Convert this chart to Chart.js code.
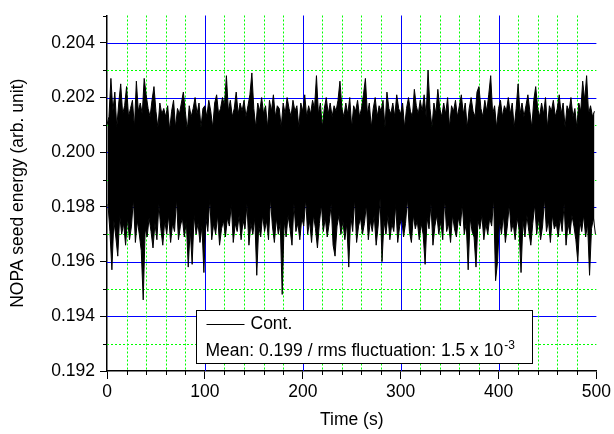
<!DOCTYPE html>
<html>
<head>
<meta charset="utf-8">
<script src="https://cdn.jsdelivr.net/npm/chart.js@4.4.1/dist/chart.umd.min.js"></script>
<style>
  html, body { margin: 0; padding: 0; background: #fff; }
</style>
</head>
<body>
<canvas id="seedChart" width="614" height="434"></canvas>
<script>
// NOPA seed energy trace, read off the plot as the upper / lower envelope
// of the signal in 2 s bins (t = 0, 2, 4 ... 498 s)
var binSeconds = 2;

var upperEnv = [
  0.2010, 0.2013, 0.2027, 0.2015, 0.2022, 0.2009, 0.2018, 0.2025, 0.2014, 0.2017,
  0.2024, 0.2013, 0.2016, 0.2019, 0.2009, 0.2026, 0.2015, 0.2018, 0.2014, 0.2027,
  0.2021, 0.2016, 0.2013, 0.2019, 0.2024, 0.2015, 0.2009, 0.2018, 0.2014, 0.2016,
  0.2013, 0.2017, 0.2008, 0.2015, 0.2019, 0.2009, 0.2016, 0.2014, 0.2018, 0.2022,
  0.2015, 0.2008, 0.2017, 0.2013, 0.2016, 0.2020, 0.2014, 0.2018, 0.2009, 0.2016,
  0.2017, 0.2013, 0.2019, 0.2015, 0.2009, 0.2018, 0.2021, 0.2014, 0.2016, 0.2020,
  0.2017, 0.2028, 0.2015, 0.2019, 0.2013, 0.2016, 0.2022, 0.2014, 0.2018, 0.2015,
  0.2019, 0.2013, 0.2017, 0.2021, 0.2029, 0.2016, 0.2009, 0.2018, 0.2015, 0.2020,
  0.2014, 0.2017, 0.2009, 0.2019, 0.2015, 0.2021, 0.2013, 0.2017, 0.2016, 0.2009,
  0.2018, 0.2014, 0.2020, 0.2016, 0.2013, 0.2019, 0.2015, 0.2017, 0.2009, 0.2018,
  0.2015, 0.2021, 0.2013, 0.2017, 0.2014, 0.2019, 0.2016, 0.2028, 0.2014, 0.2018,
  0.2009, 0.2016, 0.2020, 0.2014, 0.2018, 0.2013, 0.2017, 0.2015, 0.2019, 0.2026,
  0.2016, 0.2013, 0.2018, 0.2014, 0.2020, 0.2009, 0.2017, 0.2015, 0.2019, 0.2013,
  0.2016, 0.2021, 0.2027, 0.2014, 0.2018, 0.2009, 0.2016, 0.2020, 0.2013, 0.2017,
  0.2015, 0.2019, 0.2009, 0.2022, 0.2016, 0.2014, 0.2018, 0.2013, 0.2021, 0.2016,
  0.2014, 0.2018, 0.2009, 0.2016, 0.2020, 0.2015, 0.2013, 0.2023, 0.2017, 0.2014,
  0.2019, 0.2015, 0.2021, 0.2013, 0.2030, 0.2016, 0.2009, 0.2018, 0.2014, 0.2023,
  0.2016, 0.2013, 0.2018, 0.2014, 0.2020, 0.2009, 0.2017, 0.2015, 0.2019, 0.2013,
  0.2017, 0.2021, 0.2014, 0.2018, 0.2009, 0.2016, 0.2020, 0.2015, 0.2013, 0.2022,
  0.2024, 0.2016, 0.2013, 0.2019, 0.2015, 0.2021, 0.2028, 0.2014, 0.2017, 0.2009,
  0.2016, 0.2019, 0.2013, 0.2017, 0.2015, 0.2020, 0.2014, 0.2018, 0.2009, 0.2016,
  0.2025, 0.2014, 0.2018, 0.2013, 0.2017, 0.2021, 0.2015, 0.2009, 0.2019, 0.2024,
  0.2016, 0.2013, 0.2018, 0.2014, 0.2020, 0.2009, 0.2017, 0.2015, 0.2019, 0.2013,
  0.2016, 0.2021, 0.2014, 0.2018, 0.2009, 0.2017, 0.2015, 0.2020, 0.2013, 0.2016,
  0.2009, 0.2018, 0.2015, 0.2026, 0.2019, 0.2028, 0.2014, 0.2017, 0.2013, 0.2015
];

var lowerEnv = [
  0.1981, 0.1971, 0.1957, 0.1975, 0.1969, 0.1962, 0.1977, 0.1970, 0.1974, 0.1966,
  0.1976, 0.1968, 0.1973, 0.1983, 0.1967, 0.1975, 0.1970, 0.1964, 0.1946, 0.1972,
  0.1969, 0.1976, 0.1971, 0.1965, 0.1974, 0.1968, 0.1981, 0.1972, 0.1966, 0.1975,
  0.1970, 0.1977, 0.1967, 0.1974, 0.1971, 0.1983, 0.1968, 0.1973, 0.1976, 0.1969,
  0.1975, 0.1958, 0.1972, 0.1959, 0.1977, 0.1970, 0.1974, 0.1967, 0.1973, 0.1956,
  0.1976, 0.1971, 0.1983, 0.1968, 0.1974, 0.1970, 0.1977, 0.1966, 0.1972, 0.1975,
  0.1969, 0.1976, 0.1973, 0.1981, 0.1967, 0.1974, 0.1971, 0.1977, 0.1968, 0.1975,
  0.1972, 0.1981, 0.1966, 0.1974, 0.1970, 0.1976, 0.1955, 0.1973, 0.1969, 0.1977,
  0.1971, 0.1975, 0.1968, 0.1983, 0.1973, 0.1967, 0.1976, 0.1970, 0.1974, 0.1948,
  0.1975, 0.1969, 0.1977, 0.1972, 0.1966, 0.1981, 0.1971, 0.1974, 0.1968, 0.1976,
  0.1973, 0.1983, 0.1970, 0.1975, 0.1967, 0.1977, 0.1972, 0.1965, 0.1974, 0.1981,
  0.1971, 0.1976, 0.1969, 0.1974, 0.1981, 0.1966, 0.1962, 0.1973, 0.1977, 0.1970,
  0.1975, 0.1968, 0.1974, 0.1958, 0.1977, 0.1971, 0.1983, 0.1967, 0.1973, 0.1976,
  0.1970, 0.1974, 0.1981, 0.1968, 0.1975, 0.1971, 0.1977, 0.1966, 0.1973, 0.1983,
  0.1960, 0.1975, 0.1970, 0.1977, 0.1968, 0.1974, 0.1971, 0.1981, 0.1967, 0.1973,
  0.1976, 0.1969, 0.1974, 0.1983, 0.1971, 0.1967, 0.1977, 0.1972, 0.1975, 0.1968,
  0.1974, 0.1970, 0.1959, 0.1976, 0.1972, 0.1981, 0.1966, 0.1973, 0.1977, 0.1970,
  0.1975, 0.1968, 0.1983, 0.1971, 0.1974, 0.1967, 0.1977, 0.1972, 0.1969, 0.1976,
  0.1973, 0.1981, 0.1970, 0.1974, 0.1957, 0.1976, 0.1971, 0.1969, 0.1958, 0.1975,
  0.1972, 0.1977, 0.1968, 0.1974, 0.1970, 0.1976, 0.1973, 0.1983, 0.1953, 0.1960,
  0.1975, 0.1970, 0.1977, 0.1967, 0.1973, 0.1981, 0.1971, 0.1974, 0.1968, 0.1976,
  0.1972, 0.1956, 0.1975, 0.1969, 0.1977, 0.1971, 0.1966, 0.1974, 0.1981, 0.1970,
  0.1976, 0.1968, 0.1973, 0.1983, 0.1971, 0.1975, 0.1967, 0.1977, 0.1972, 0.1974,
  0.1969, 0.1976, 0.1971, 0.1981, 0.1966, 0.1974, 0.1970, 0.1977, 0.1973, 0.1968,
  0.1960, 0.1975, 0.1971, 0.1977, 0.1969, 0.1974, 0.1955, 0.1972, 0.1976, 0.1970
];

var xLabelTicks = [0, 100, 200, 300, 400, 500];
var yLabelTicks = ['0.192', '0.194', '0.196', '0.198', '0.200', '0.202', '0.204'];
var legendName = 'Cont.';
var legendStats = 'Mean: 0.199 / rms fluctuation: 1.5 x 10';
var legendExp = '-3';

var FONT = '"Liberation Sans", Arial, sans-serif';
var BLUE = '#0000ff';
var GREEN = '#00ff00';

var upperPts = [], lowerPts = [];
for (var i = 0; i < upperEnv.length; i++) {
  upperPts.push({x: i * binSeconds, y: upperEnv[i]});
  lowerPts.push({x: i * binSeconds + binSeconds / 2, y: lowerEnv[i]});
}

function xMajor(v) { return Math.round(v) % 100 === 0; }
function yMajor(v) { return Math.round(v * 1000) % 2 === 0; }

// blue solid major grid, green dotted minor grid, under the trace
var plotGrid = {
  id: 'plotGrid',
  beforeDatasetsDraw: function(chart) {
    var ctx = chart.ctx, area = chart.chartArea;
    var xs = chart.scales.x, ys = chart.scales.y;
    ctx.save();
    ctx.lineWidth = 1;
    ys.ticks.forEach(function(t) {
      var k = Math.round(t.value * 1000);
      if (k <= 192 || k >= 205) return;
      var py = Math.round(ys.getPixelForValue(t.value)) + 0.5;
      ctx.strokeStyle = yMajor(t.value) ? BLUE : GREEN;
      ctx.setLineDash(yMajor(t.value) ? [] : [2, 2]);
      ctx.beginPath();
      ctx.moveTo(area.left, py);
      ctx.lineTo(area.right, py);
      ctx.stroke();
    });
    xs.ticks.forEach(function(t) {
      var k = Math.round(t.value);
      if (k <= 0 || k >= 500) return;
      var px = Math.round(xs.getPixelForValue(t.value)) + 0.5;
      ctx.strokeStyle = xMajor(t.value) ? BLUE : GREEN;
      ctx.setLineDash(xMajor(t.value) ? [] : [2, 2]);
      ctx.beginPath();
      ctx.moveTo(px, area.top);
      ctx.lineTo(px, area.bottom);
      ctx.stroke();
    });
    ctx.restore();
  }
};

// short black ticks for the minor steps
var minorTicks = {
  id: 'minorTicks',
  afterDraw: function(chart) {
    var ctx = chart.ctx;
    var xs = chart.scales.x, ys = chart.scales.y;
    ctx.save();
    ctx.strokeStyle = '#000';
    ctx.lineWidth = 1;
    ctx.beginPath();
    xs.ticks.forEach(function(t) {
      if (xMajor(t.value)) return;
      var px = Math.round(xs.getPixelForValue(t.value)) + 0.5;
      ctx.moveTo(px, xs.top);
      ctx.lineTo(px, xs.top + 4);
    });
    ys.ticks.forEach(function(t) {
      if (yMajor(t.value)) return;
      var py = Math.round(ys.getPixelForValue(t.value)) + 0.5;
      ctx.moveTo(ys.right, py);
      ctx.lineTo(ys.right - 4, py);
    });
    ctx.stroke();
    ctx.restore();
  }
};

// boxed legend inside the plot, with the superscript exponent
var legendBox = {
  id: 'legendBox',
  afterDraw: function(chart) {
    var ctx = chart.ctx;
    var area = chart.chartArea;
    var x0 = area.left + 89.5, y0 = area.bottom - 60.5;
    var w = 336, h = 53;
    ctx.save();
    ctx.fillStyle = '#fff';
    ctx.fillRect(x0, y0, w, h);
    ctx.strokeStyle = '#000';
    ctx.lineWidth = 1;
    ctx.strokeRect(x0, y0, w, h);

    ctx.beginPath();
    ctx.moveTo(x0 + 10, y0 + 14);
    ctx.lineTo(x0 + 48, y0 + 14);
    ctx.stroke();

    ctx.fillStyle = '#000';
    ctx.font = '17.5px ' + FONT;
    ctx.textBaseline = 'middle';
    ctx.fillText(legendName, x0 + 54, y0 + 14);

    ctx.textBaseline = 'alphabetic';
    ctx.fillText(legendStats, x0 + 9, y0 + 45);
    var tw = ctx.measureText(legendStats).width;
    ctx.font = '12px ' + FONT;
    ctx.fillText(legendExp, x0 + 9 + tw + 1, y0 + 38);
    ctx.restore();
  }
};

var ctx = document.getElementById('seedChart').getContext('2d');
var seedChart = new Chart(ctx, {
  type: 'line',
  data: {
    datasets: [{
      label: legendName,
      data: upperPts,
      borderColor: '#000',
      backgroundColor: '#000',
      borderWidth: 1,
      pointRadius: 0,
      tension: 0,
      fill: '+1'
    }, {
      label: 'lower',
      data: lowerPts,
      borderColor: '#000',
      borderWidth: 1,
      pointRadius: 0,
      tension: 0,
      fill: false
    }]
  },
  options: {
    responsive: false,
    animation: false,
    parsing: false,
    events: [],
    layout: { padding: { left: 0, top: 11, right: 16, bottom: 0 } },
    plugins: {
      legend: { display: false },
      tooltip: { enabled: false }
    },
    scales: {
      x: {
        type: 'linear',
        min: 0,
        max: 500,
        afterFit: function(s) { s.height = 63; },
        ticks: {
          stepSize: 20,
          maxTicksLimit: 40,
          autoSkip: false,
          maxRotation: 0,
          padding: 3,
          color: '#000',
          font: { family: FONT, size: 17.5 },
          callback: function(v) {
            return xLabelTicks.indexOf(Math.round(v)) >= 0 ? String(Math.round(v)) : '';
          }
        },
        grid: {
          drawOnChartArea: false,
          tickLength: 8,
          tickColor: function(c) {
            return c.tick && xMajor(c.tick.value) ? '#000' : 'rgba(0,0,0,0)';
          }
        },
        border: { color: '#000', width: 1.5 },
        title: {
          display: true,
          text: 'Time (s)',
          color: '#000',
          font: { family: FONT, size: 17.5 },
          padding: { top: 0, bottom: 3 }
        }
      },
      y: {
        min: 0.192,
        max: 0.205,
        afterFit: function(s) { s.width = 107; },
        ticks: {
          stepSize: 0.001,
          maxTicksLimit: 40,
          autoSkip: false,
          padding: 5,
          color: '#000',
          font: { family: FONT, size: 17.5 },
          callback: function(v) {
            var s = v.toFixed(3);
            return yLabelTicks.indexOf(s) >= 0 ? s : '';
          }
        },
        grid: {
          drawOnChartArea: false,
          tickLength: 7,
          tickColor: function(c) {
            return c.tick && yMajor(c.tick.value) ? '#000' : 'rgba(0,0,0,0)';
          }
        },
        border: { color: '#000', width: 1.5 },
        title: {
          display: true,
          text: 'NOPA seed energy (arb. unit)',
          color: '#000',
          font: { family: FONT, size: 17.5 },
          padding: { top: 8, bottom: 0 }
        }
      }
    }
  },
  plugins: [plotGrid, minorTicks, legendBox]
});
</script>
</body>
</html>
